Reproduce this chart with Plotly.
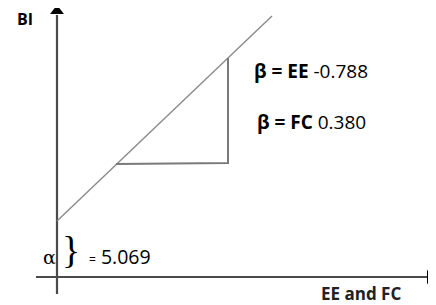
import plotly.graph_objects as go

# Schematic regression diagram (units: schematic, origin where axes cross)
line_x = [0, 215]
line_y = [56, 261]
triangle_x = [59, 171, 171]
triangle_y = [113, 114, 219]
yaxis_x = [0, 0]
yaxis_y = [-17, 262]
xaxis_x = [-21, 370]
xaxis_y = [0, 0]
arrow_up = (0, 266)
arrow_right = (373, 0)

alpha_value = "5.069"
beta_ee = "-0.788"
beta_fc = "0.380"
x_label = "EE and FC"
y_label = "BI"

AX = "#4a4a4a"
fig = go.Figure()
fig.add_trace(go.Scatter(x=yaxis_x, y=yaxis_y, mode="lines",
                         line=dict(color=AX, width=2.2), hoverinfo="skip"))
fig.add_trace(go.Scatter(x=xaxis_x, y=xaxis_y, mode="lines",
                         line=dict(color=AX, width=2.2), hoverinfo="skip"))
fig.add_trace(go.Scatter(x=[arrow_up[0]], y=[arrow_up[1]], mode="markers",
                         marker=dict(symbol="triangle-up", size=12, color="black"),
                         hoverinfo="skip", cliponaxis=False))
fig.add_trace(go.Scatter(x=[arrow_right[0]], y=[arrow_right[1]], mode="markers",
                         marker=dict(symbol="triangle-right", size=12, color="black"),
                         hoverinfo="skip", cliponaxis=False))
fig.add_trace(go.Scatter(x=line_x, y=line_y, mode="lines",
                         line=dict(color="#8a8a8a", width=1.4), hoverinfo="skip"))
fig.add_trace(go.Scatter(x=triangle_x, y=triangle_y, mode="lines",
                         line=dict(color="#7a7a7a", width=2), hoverinfo="skip"))

F = "Open Sans, Lato, sans-serif"
ann = [
    dict(x=-32, y=258, text="<b>" + y_label + "</b>", font=dict(size=16, family=F, color="black"),
         xanchor="center", yanchor="middle"),
    dict(x=195, y=206, text="<b>β = EE</b> " + beta_ee, font=dict(size=19, family=F, color="black"),
         xanchor="left", yanchor="middle"),
    dict(x=198, y=155, text="<b>β = FC</b> " + beta_fc, font=dict(size=19, family=F, color="black"),
         xanchor="left", yanchor="middle"),
    dict(x=-8, y=20, text="α", font=dict(size=19, family="DejaVu Serif", color="black"),
         xanchor="center", yanchor="middle"),
    dict(x=14, y=27, text="}", font=dict(size=38, family="Liberation Serif", color="black"),
         xanchor="center", yanchor="middle"),
    dict(x=30, y=21, text="<span style='font-size:12px'>=</span> " + alpha_value,
         font=dict(size=19.5, family=F, color="black"), xanchor="left", yanchor="middle"),
    dict(x=304, y=-16, text="<b>" + x_label + "</b>", font=dict(size=17, family=F, color="#222"),
         xanchor="center", yanchor="middle"),
]
for a in ann:
    a.update(xref="x", yref="y", showarrow=False)

fig.update_layout(
    width=436, height=305, margin=dict(l=0, r=0, t=0, b=0),
    paper_bgcolor="white", plot_bgcolor="white", showlegend=False,
    xaxis=dict(range=[-49, 387], visible=False, fixedrange=True),
    yaxis=dict(range=[-36, 269], visible=False, fixedrange=True),
    annotations=ann,
)
fig.write_html("out.html")
